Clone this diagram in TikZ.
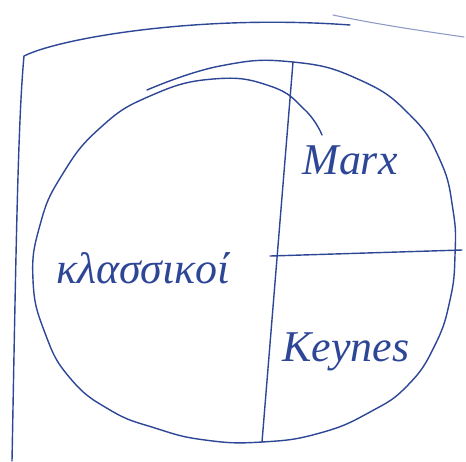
\documentclass[tikz,border=0pt]{standalone}
\usepackage{fontspec}
\setmainfont{Liberation Serif}
\usepackage{xcolor}
\usepackage{tikz}
\usetikzlibrary{positioning,calc}
\definecolor{inkblue}{RGB}{45,70,150}

\begin{document}
\begin{tikzpicture}[x=0.02cm, y=-0.02cm]
    \tikzstyle{pen}=[draw=inkblue, line width=0.8pt, line cap=round, line join=round]
    \tikzstyle{faint}=[draw=inkblue!55, line width=0.6pt, line cap=round]
    \tikzstyle{hand}=[text=inkblue, font=\itshape\fontsize{25}{25}\selectfont, inner sep=0pt]
    \useasboundingbox (0,0) rectangle (466,461);
    % frame
    \coordinate (fbl) at (12,461);
    \coordinate (ftl) at (24,56);
    \coordinate (ftr) at (350,25);
    \draw[pen] (fbl) .. controls (16,250) and (18,120) .. (ftl)
      .. controls (60,38) and (200,14) .. (ftr);
    \draw[faint] (333,15) .. controls (380,25) and (430,32) .. (464,37);
    % circle, drawn in one stroke
    \draw[pen] plot[smooth, tension=0.8] coordinates {
      (147,90) (220,66) (293,62) (360,80) (410,115) (440,160) (453,210)
      (455,255) (450,300) (435,345) (408,385) (370,412) (320,433) (262,442)
      (205,440) (155,428) (110,410) (70,378) (45,333) (33,280) (40,225)
      (62,175) (100,128) (150,96) (213,79) (270,86) (305,110) (322,135)};
    % dividers
    \coordinate (vtop) at (293,62);
    \coordinate (vbot) at (262,442);
    \coordinate (hleft) at (270,256);
    \coordinate (hright) at (462,250);
    \draw[pen] (vtop) -- (vbot);
    \draw[pen] (hleft) -- (hright);
    % labels
    \node[hand] (klass) at (143,268) {κλασσικοί};
    \node[hand] (marx) at (350,160) {Marx};
    \node[hand] (keynes) at (346,352) {Keynes};
\end{tikzpicture}
\end{document}
